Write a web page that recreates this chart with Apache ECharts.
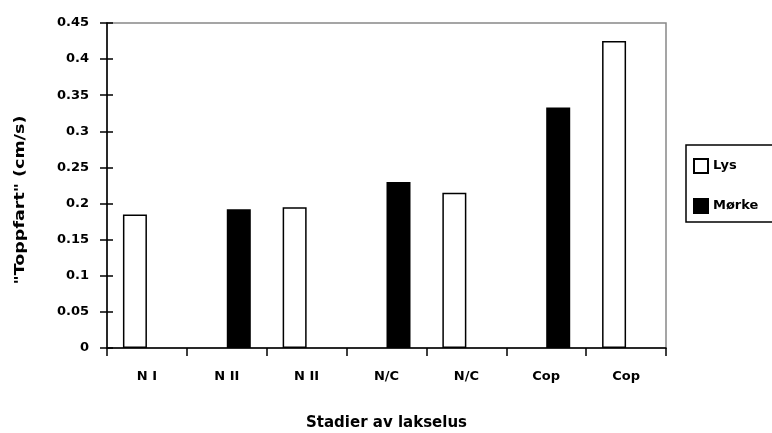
<!DOCTYPE html>
<html>
<head>
<meta charset="utf-8">
<script src="https://cdn.jsdelivr.net/npm/echarts@6/dist/echarts.min.js"></script>
<style>
  html, body { margin: 0; padding: 0; background: #fff; }
  #chart { width: 772px; height: 433px; }
</style>
</head>
<body>
<div id="chart"></div>
<script>
// stadier og målte toppfarter
var stadier = ['N I', 'N II', 'N II', 'N/C', 'N/C', 'Cop', 'Cop'];
var lys = [0.185, null, 0.195, null, 0.215, null, 0.425];
var morke = [null, 0.192, null, 0.23, null, 0.333, null];
var yTicks = [0, 0.45, 0.05];

var font = 'DejaVu Sans';
var chart = echarts.init(document.getElementById('chart'));

var option = {
    backgroundColor: '#fff',
    animation: false,
    textStyle: { fontFamily: font, color: '#000' },
    grid: {
        left: 107,
        top: 23,
        right: 106,
        bottom: 85,
        outerBoundsMode: 'none',
        show: true,
        borderColor: '#888',
        borderWidth: 1.5
    },
    legend: {
        orient: 'vertical',
        left: 686,
        top: 145,
        padding: [13, 40, 8, 7],
        icon: 'rect',
        itemWidth: 14,
        itemHeight: 14,
        itemGap: 24,
        borderColor: '#000',
        borderWidth: 1.5,
        textStyle: { fontFamily: font, fontSize: 13, fontWeight: 'bold', color: '#000' },
        data: ['Lys', 'Mørke']
    },
    graphic: [{
        type: 'text',
        x: 20,
        y: 200,
        rotation: Math.PI / 2,
        scaleX: 1.25,
        style: {
            text: '"Toppfart" (cm/s)',
            font: 'bold 14px ' + font,
            fill: '#000',
            align: 'center',
            verticalAlign: 'middle'
        }
    }],
    xAxis: {
        type: 'category',
        data: stadier,
        name: 'Stadier av lakselus',
        nameLocation: 'middle',
        nameGap: 68,
        nameTextStyle: { fontFamily: font, fontSize: 15, fontWeight: 'bold', color: '#000' },
        axisLine: { lineStyle: { color: '#000', width: 1.5 } },
        axisTick: { show: true, interval: 0, alignWithLabel: false, length: 8, lineStyle: { color: '#000', width: 1.5 } },
        axisLabel: { margin: 22, fontSize: 13, fontWeight: 'bold', color: '#000', fontFamily: font }
    },
    yAxis: [{
        type: 'value',
        min: yTicks[0],
        max: yTicks[1],
        interval: yTicks[2],
        splitLine: { show: false },
        axisLine: { show: true, lineStyle: { color: '#000', width: 1.5 } },
        axisTick: { show: true, length: 7, lineStyle: { color: '#000', width: 1.5 } },
        axisLabel: { margin: 18, fontSize: 13, fontWeight: 'bold', color: '#000', fontFamily: font }
    }, {
        type: 'value',
        position: 'left',
        min: yTicks[0],
        max: yTicks[1],
        interval: yTicks[2],
        splitLine: { show: false },
        axisLine: { show: false },
        axisTick: { show: true, inside: true, length: 6, lineStyle: { color: '#000', width: 1.5 } },
        axisLabel: { show: false }
    }],
    series: [{
        name: 'Lys',
        type: 'bar',
        data: lys,
        barWidth: 24,
        barGap: '0%',
        itemStyle: { color: '#fff', borderColor: '#000', borderWidth: 1.5 }
    }, {
        name: 'Mørke',
        type: 'bar',
        data: morke,
        barWidth: 24,
        barGap: '0%',
        itemStyle: { color: '#000', borderColor: '#000', borderWidth: 1.5 }
    }]
};

chart.setOption(option);
</script>
</body>
</html>
